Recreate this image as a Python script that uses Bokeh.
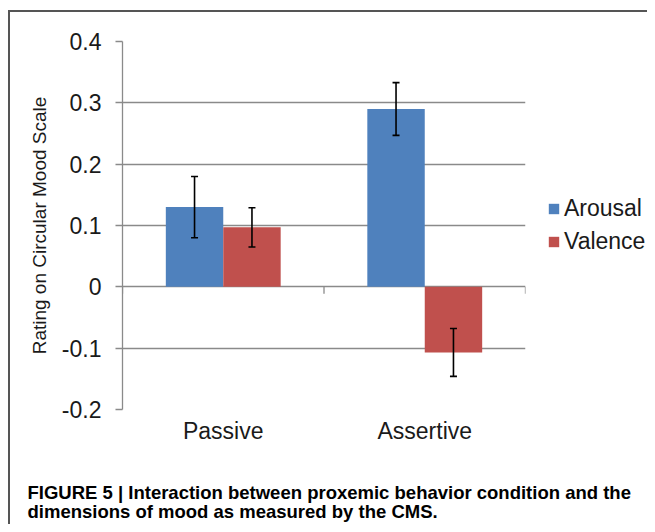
from bokeh.plotting import figure
from bokeh.layouts import column, row
from bokeh.models import (FactorRange, Range1d, FixedTicker, Whisker, TeeHead,
                          ColumnDataSource, Legend, LegendItem, Label)
from bokeh.transform import dodge
from bokeh.embed import file_html
from bokeh.resources import INLINE
import math

# ---- data ----
conditions = ["Passive", "Assertive"]
arousal = [0.13, 0.29]
valence = [0.097, -0.107]
arousal_err = [0.05, 0.043]
valence_err = [0.032, 0.039]
series_names = ["Arousal", "Valence"]
y_ticks = [-0.2, -0.1, 0.0, 0.1, 0.2, 0.3, 0.4]
y_tick_labels = ["-0.2", "-0.1", "0", "0.1", "0.2", "0.3", "0.4"]
y_label = "Rating on Circular Mood Scale"
caption_lines = ["FIGURE 5 | Interaction between proxemic behavior condition and the",
                 "dimensions of mood as measured by the CMS."]

BLUE = "#4F81BD"
RED = "#C0504D"
colors = [BLUE, RED]
GRID = "#8a8a8a"
TXT = "#1a1a1a"
FONT = "Liberation Sans"
W = 647
W_CHART = 527
H_CHART = 465
H_CAP = 59

src = ColumnDataSource(dict(
    cond=conditions,
    arousal=arousal,
    valence=valence,
    a_up=[v + e for v, e in zip(arousal, arousal_err)],
    a_lo=[v - e for v, e in zip(arousal, arousal_err)],
    v_up=[v + e for v, e in zip(valence, valence_err)],
    v_lo=[v - e for v, e in zip(valence, valence_err)],
))

p = figure(width=W_CHART, height=H_CHART, output_backend="svg", toolbar_location=None,
           x_range=FactorRange(*conditions), y_range=Range1d(y_ticks[0], y_ticks[-1]),
           min_border_left=122, min_border_right=W_CHART - 525, min_border_top=41,
           min_border_bottom=H_CHART - 409)
p.outline_line_color = None
p.background_fill_color = "white"
p.border_fill_alpha = 0

bw = 0.285
off = 0.1425
p.vbar(x=dodge("cond", -off, range=p.x_range), top="arousal", bottom=0, width=bw,
       source=src, fill_color=colors[0], line_color=None)
p.vbar(x=dodge("cond", off, range=p.x_range), top="valence", bottom=0, width=bw,
       source=src, fill_color=colors[1], line_color=None)

for key, d in (("a", -off), ("v", off)):
    w = Whisker(base=dodge("cond", d, range=p.x_range), upper=f"{key}_up", lower=f"{key}_lo",
                source=src, line_color="black", line_width=1.6, level="overlay",
                upper_head=TeeHead(size=7, line_color="black", line_width=1.6),
                lower_head=TeeHead(size=7, line_color="black", line_width=1.6))
    p.add_layout(w)

# category boundary tick marks on the zero line
bounds = list(range(len(conditions) + 1))
p.ray(x=bounds, y=[0] * len(bounds), length=7, length_units="screen",
      angle=-math.pi / 2, line_color=GRID, line_width=1.3)

# axes
p.yaxis.ticker = FixedTicker(ticks=y_ticks)
p.yaxis.major_label_overrides = {t: l for t, l in zip(y_ticks, y_tick_labels)}
p.yaxis.axis_line_color = GRID
p.yaxis.axis_line_width = 1.3
p.yaxis.major_tick_line_color = GRID
p.yaxis.major_tick_line_width = 1.3
p.yaxis.major_tick_out = 7
p.yaxis.major_tick_in = 0
p.yaxis.minor_tick_line_color = None
p.yaxis.major_label_standoff = 14
p.yaxis.major_label_text_font = FONT
p.yaxis.major_label_text_font_size = "23px"
p.yaxis.major_label_text_color = TXT
p.yaxis.axis_label = y_label
p.yaxis.axis_label_text_font = FONT
p.yaxis.axis_label_text_font_size = "19px"
p.yaxis.axis_label_text_font_style = "normal"
p.yaxis.axis_label_text_color = TXT
p.yaxis.axis_label_standoff = 9

p.xaxis.axis_line_color = None
p.xaxis.major_tick_line_color = None
p.xaxis.minor_tick_line_color = None
p.xaxis.major_tick_out = 0
p.xaxis.major_label_standoff = 8
p.xaxis.major_label_text_font = FONT
p.xaxis.major_label_text_font_size = "23px"
p.xaxis.major_label_text_color = TXT

p.xgrid.grid_line_color = None
p.ygrid.grid_line_color = GRID
p.ygrid.grid_line_width = 1.3

# legend panel (separate figure; its frame is aligned with the chart's frame)
lg = figure(width=W - W_CHART, height=H_CHART, output_backend="svg", toolbar_location=None,
            x_range=Range1d(0, 1), y_range=Range1d(0, 1),
            x_axis_type=None, y_axis_type=None,
            min_border_left=0, min_border_right=0, min_border_top=0, min_border_bottom=0)
lg.outline_line_color = None
lg.background_fill_alpha = 0
lg.border_fill_alpha = 0
lg.grid.visible = False
swatches = [lg.vbar(x=0.5, top=0, bottom=0, width=0, source=src,
                    fill_color=col, line_color=None) for col in colors]
legend = Legend(items=[LegendItem(label=n, renderers=[r]) for n, r in zip(series_names, swatches)],
                location=(20, 154), orientation="vertical",
                glyph_width=13, glyph_height=13, label_standoff=4,
                label_height=25, spacing=6, padding=0, margin=0,
                label_text_font=FONT, label_text_font_size="23px",
                label_text_color=TXT,
                border_line_color=None, background_fill_alpha=0)
lg.add_layout(legend)

# caption panel
c = figure(width=W, height=H_CAP, output_backend="svg", toolbar_location=None,
           x_range=Range1d(0, W), y_range=Range1d(H_CAP, 0),
           x_axis_type=None, y_axis_type=None,
           min_border_left=0, min_border_right=0, min_border_top=0, min_border_bottom=0)
c.outline_line_color = None
c.background_fill_alpha = 0
c.border_fill_alpha = 0
c.grid.visible = False
for txt, yy in zip(caption_lines, (492 - H_CHART, 511 - H_CHART)):
    c.add_layout(Label(x=27, y=yy, text=txt, text_font=FONT, text_font_style="bold",
                       text_font_size="18.5px", text_color="black",
                       text_baseline="alphabetic", text_align="left"))

page = column(row(p, lg, spacing=0), c, spacing=0)
page.styles = {
    "background-color": "white",
    "background-image": "linear-gradient(#555555, #555555), linear-gradient(#555555, #555555)",
    "background-size": "2px 100%, 100% 2px",
    "background-position": "8px 10px, 8px 10px",
    "background-repeat": "no-repeat",
}

open("out.html", "w").write(file_html(page, INLINE))
